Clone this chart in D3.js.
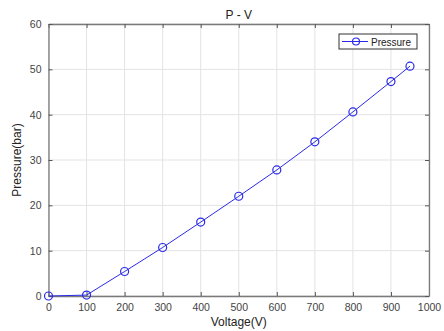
<!DOCTYPE html>
<html>
<head>
<meta charset="utf-8">
<script src="https://cdn.jsdelivr.net/npm/d3@7"></script>
<style>
  body { margin: 0; background: #fff; }
  svg { font-family: "Liberation Sans", Arial, sans-serif; }
</style>
</head>
<body>
<svg id="chart"></svg>
<script>
/* DATA */
const voltage = [0, 100, 200, 300, 400, 500, 600, 700, 800, 900, 950];
const pressure = [0, 0.2, 5.4, 10.7, 16.3, 22.0, 27.8, 34.0, 40.6, 47.3, 50.7];
const xTicks = [0, 100, 200, 300, 400, 500, 600, 700, 800, 900, 1000];
const yTicks = [0, 10, 20, 30, 40, 50, 60];

const width = 444, height = 331;
const margin = { top: 24, right: 15, bottom: 35, left: 48.5 };

const svg = d3.select("#chart").attr("width", width).attr("height", height);

const x = d3.scaleLinear().domain([0, 1000]).range([margin.left, width - margin.right]);
const y = d3.scaleLinear().domain([0, 60]).range([height - margin.bottom, margin.top]);

const x0 = x.range()[0], x1 = x.range()[1], y0 = y.range()[0], y1 = y.range()[1];

// grid
const grid = svg.append("g").attr("stroke", "#e3e3e3").attr("stroke-width", 1);
xTicks.forEach(t => grid.append("line").attr("x1", x(t)).attr("x2", x(t)).attr("y1", y0).attr("y2", y1));
yTicks.forEach(t => grid.append("line").attr("x1", x0).attr("x2", x1).attr("y1", y(t)).attr("y2", y(t)));

// axes (ticks inward, all four sides)
const axisColor = "#7a7a7a";
const axBottom = svg.append("g").attr("transform", `translate(0,${y0})`)
  .call(d3.axisBottom(x).tickValues(xTicks).tickFormat(d3.format("d")).tickSizeInner(-4).tickSizeOuter(0).tickPadding(8));
const axTop = svg.append("g").attr("transform", `translate(0,${y1})`)
  .call(d3.axisTop(x).tickValues(xTicks).tickSizeInner(-4).tickSizeOuter(0).tickFormat(""));
const axLeft = svg.append("g").attr("transform", `translate(${x0},0)`)
  .call(d3.axisLeft(y).tickValues(yTicks).tickSizeInner(-4).tickSizeOuter(0).tickPadding(7));
const axRight = svg.append("g").attr("transform", `translate(${x1},0)`)
  .call(d3.axisRight(y).tickValues(yTicks).tickSizeInner(-4).tickSizeOuter(0).tickFormat(""));

[axBottom, axTop, axLeft, axRight].forEach(g => {
  g.select(".domain").attr("stroke", axisColor).attr("stroke-width", 1.3);
  g.selectAll(".tick line").attr("stroke", "#555");
  g.selectAll("text").attr("fill", "#444").style("font-size", "10.5px");
});

// line + markers
const lineColor = "#2a2ae8";
svg.append("path")
  .datum(voltage.map((v, i) => [v, pressure[i]]))
  .attr("fill", "none")
  .attr("stroke", lineColor)
  .attr("stroke-width", 1)
  .attr("d", d3.line().x(d => x(d[0])).y(d => y(d[1])));

svg.append("g").selectAll("circle")
  .data(voltage.map((v, i) => [v, pressure[i]]))
  .join("circle")
  .attr("cx", d => x(d[0]))
  .attr("cy", d => y(d[1]))
  .attr("r", 4)
  .attr("fill", "none")
  .attr("stroke", lineColor)
  .attr("stroke-width", 1.2);

// title + labels
svg.append("text").attr("x", (x0 + x1) / 2).attr("y", 18.5).attr("text-anchor", "middle")
  .attr("fill", "#222").style("font-size", "12px").text("P - V");
svg.append("text").attr("x", (x0 + x1) / 2).attr("y", 326).attr("text-anchor", "middle")
  .attr("fill", "#222").style("font-size", "12px").text("Voltage(V)");
svg.append("text").attr("transform", `translate(21,${(y0 + y1) / 2}) rotate(-90)`)
  .attr("text-anchor", "middle").attr("fill", "#222").style("font-size", "12px").text("Pressure(bar)");

// legend
const lg = svg.append("g").attr("transform", "translate(339,34)");
lg.append("rect").attr("width", 78).attr("height", 15).attr("fill", "#fff").attr("stroke", "#333").attr("stroke-width", 1);
lg.append("line").attr("x1", 3).attr("x2", 29).attr("y1", 7.5).attr("y2", 7.5).attr("stroke", lineColor);
lg.append("circle").attr("cx", 17).attr("cy", 7.5).attr("r", 3.5).attr("fill", "none").attr("stroke", lineColor).attr("stroke-width", 1.2);
lg.append("text").attr("x", 32).attr("y", 11.6).attr("fill", "#222").style("font-size", "10px").text("Pressure");
</script>
</body>
</html>
